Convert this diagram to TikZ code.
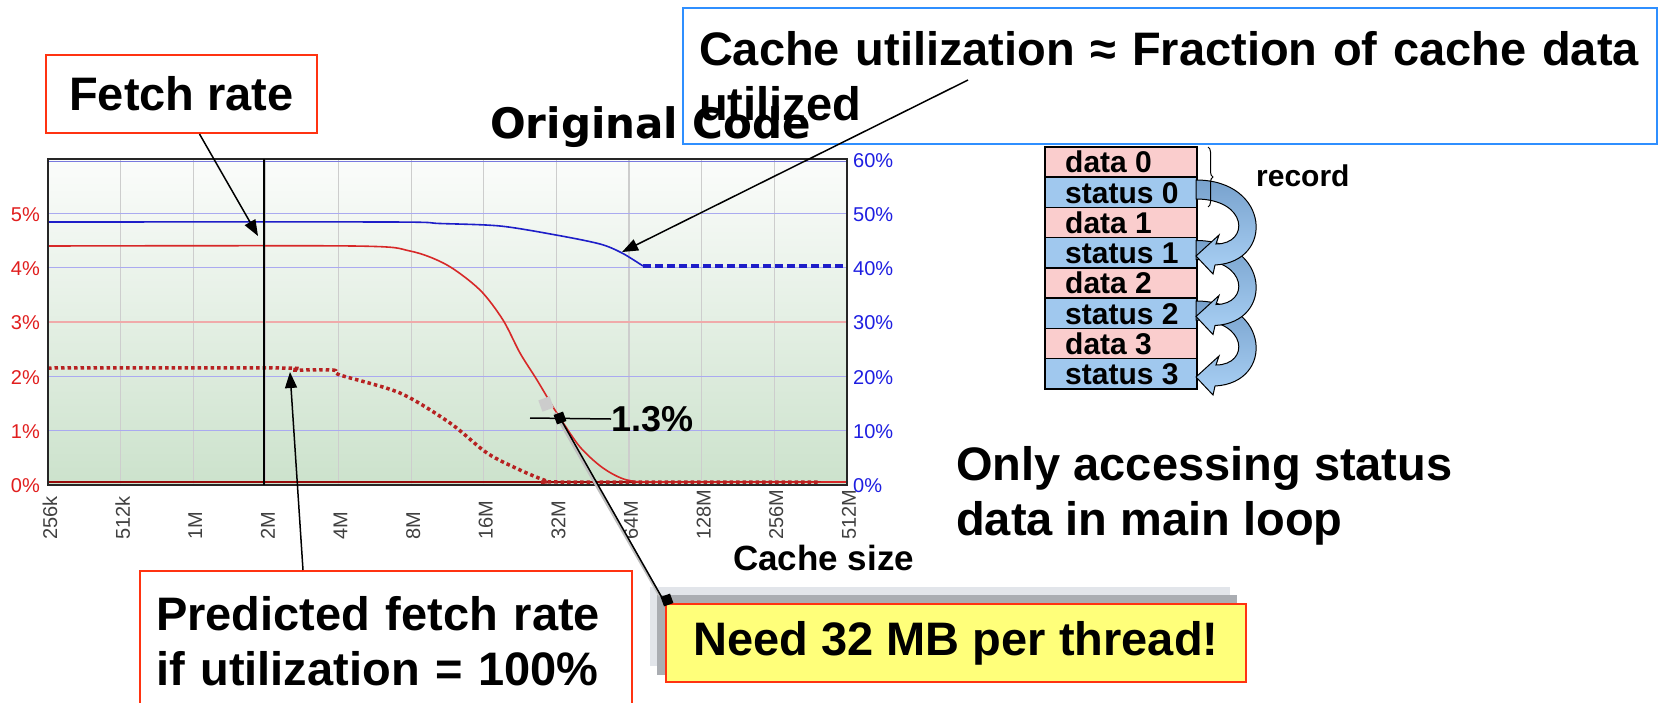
\documentclass[tikz,border=0pt]{standalone}
\usepackage{fontspec}
\setmainfont{Liberation Sans}
\newfontfamily\titlefont{DejaVu Sans}
\usetikzlibrary{arrows.meta,positioning,decorations.pathreplacing}

\definecolor{boxred}{RGB}{255,51,17}
\definecolor{boxblue}{RGB}{47,143,255}
\definecolor{notefill}{RGB}{255,255,122}
\definecolor{shadedark}{RGB}{170,173,178}
\definecolor{shadelight}{RGB}{226,229,234}
\definecolor{plottop}{RGB}{251,252,251}
\definecolor{plotbot}{RGB}{204,226,204}
\definecolor{gridgray}{RGB}{205,205,205}
\definecolor{gridblue}{RGB}{170,170,240}
\definecolor{gridred}{RGB}{240,170,170}
\definecolor{axisred}{RGB}{225,30,30}
\definecolor{axisblue}{RGB}{30,30,225}
\definecolor{curvered}{RGB}{215,40,40}
\definecolor{curveblue}{RGB}{30,30,200}
\definecolor{zerored}{RGB}{150,10,10}
\definecolor{datapink}{RGB}{250,205,205}
\definecolor{statblue}{RGB}{160,200,238}
\definecolor{ribbonlight}{RGB}{170,209,245}
\definecolor{ribbondark}{RGB}{120,162,205}

\newcommand\callfont{\fontsize{47}{55}\selectfont\bfseries}
\newcommand\axfont{\fontsize{20}{22}\selectfont}
\newcommand\recfont{\fontsize{30}{32}\selectfont\bfseries}

\begin{document}
\begin{tikzpicture}[
  x=1pt, y=-1pt,
  callout/.style={
    draw=boxred,
    line width=2pt,
    inner sep=0pt,
    font=\callfont
  },
  plaintext/.style={
    inner sep=0pt,
    font=\callfont
  },
  ylab/.style={inner sep=0pt, font=\axfont},
  xlab/.style={inner sep=0pt, font=\axfont, text=black!75, rotate=90, anchor=west},
  vgrid/.style={draw=gridgray, line width=1.2pt},
  hgrid/.style={draw=gridblue, line width=1.2pt},
  recrow/.style={
    draw,
    line width=1.5pt,
    anchor=north west,
    inner sep=0pt,
    minimum width=152pt,
    minimum height=30.25pt
  },
  rectext/.style={anchor=base west, inner sep=0pt, font=\recfont},
  ribbon/.style={draw, line width=1pt, top color=ribbondark, bottom color=ribbonlight},
  line/.style={-{Triangle[length=16pt,width=12pt]}, line width=1.5pt}
]
\useasboundingbox (0,0) rectangle (1662,702);
\fill[white] (0,0) rectangle (1662,702);

% --- Plot area ---
\shade[top color=plottop, bottom color=plotbot] (48,159) rectangle (847,485);
\foreach \i in {1,...,10}
  \draw[vgrid] ({48+72.63*\i},159) -- ({48+72.63*\i},485);
\foreach \p in {1,2,4,5}
  \draw[hgrid] (48,{485-54.3*\p}) -- (847,{485-54.3*\p});
\draw[draw=gridred, line width=2pt] (48,{485-54.3*3}) -- (847,{485-54.3*3});
\draw[hgrid, draw=curveblue!60] (48,161.5) -- (847,161.5);

% Axis labels
\foreach \p in {0,...,5}
  \node[ylab, text=axisred, anchor=east] at (40,{486-54.3*\p}) {\p\%};
\foreach \p/\t in {0/0,1/10,2/20,3/30,4/40,5/50,6/60}
  \node[ylab, text=axisblue, anchor=west] at (853,{486-54.3*\p}) {\t\%};
\foreach \t [count=\i from 0] in {256k,512k,1M,2M,4M,8M,16M,32M,64M,128M,256M,512M}
  \node[xlab] at ({50+72.63*\i},540) {\t};

% Curves
\draw[zerored, line width=2pt] (48,482) -- (847,482);
\draw[curveblue, line width=1.6pt] plot[smooth, tension=0.5] coordinates
  {(48,222) (390,222) (440,223.5) (500,226) (556,235) (600,244) (622,253) (643,266)};
\draw[curveblue, line width=4pt, dash pattern=on 8pt off 4pt] (643,266) -- (847,266);
\draw[curvered, line width=1.6pt] plot[smooth, tension=0.5] coordinates
  {(48,246) (353,246) (410,251) (447,265) (480,290) (503,320) (520,353) (537,380)
   (553,407) (560,418) (580,447) (603,468) (627,480) (660,482) (847,482)};
\draw[curvered!85!black, line width=3.5pt, dash pattern=on 3.5pt off 3pt] plot[smooth, tension=0.5] coordinates
  {(48,368) (283,368) (293,370) (333,370) (340,375) (400,393) (450,423) (487,453)
   (520,470) (547,481) (560,482) (820,482)};

\draw[black!85, line width=2pt] (48,159) rectangle (847,485);
\draw[line width=2pt] (264,159) -- (264,485);

% Title and axis caption
\node[inner sep=0pt, anchor=base west, font=\titlefont\bfseries\fontsize{42}{46}\selectfont] (title) at (490,138) {Original Code};
\node[inner sep=0pt, anchor=base west, font=\fontsize{35}{38}\selectfont\bfseries] (xcap) at (733,570) {Cache size};

% --- Callouts ---
\node[callout, minimum width=271pt, minimum height=78pt] (fetch) at (181.5,94) {Fetch rate};
\node[callout, anchor=north west, align=left, text width=460pt, minimum height=140pt,
      inner xsep=16pt] (pred) at (139,570) {Predicted fetch rate\\if utilization = 100\%};
\node[callout, draw=boxblue, anchor=north west, align=left, text width=942pt,
      minimum height=136pt, inner xsep=16pt] (util) at (682,7)
      {Cache utilization ≈ Fraction of cache data utilized};
\node[plaintext, anchor=west, align=left] (only) at (956,496)
      {Only accessing status\\data in main loop};

\coordinate (fetchtip) at (258,236);
\coordinate (predtip) at (290,372);
\coordinate (utiltip) at (622,252);
\draw[line] ([xshift=18pt]fetch.south) -- (fetchtip);
\draw[line] (pred.north -| 303,0) -- (predtip);
\draw[line] (968,80) -- (utiltip);

% --- 1.3% marker and note ---
\fill[shadelight] (650,587) rectangle (1230,666);
\fill[shadedark] (657,595) rectangle (1237,675);
\node[callout, fill=notefill, minimum width=580pt, minimum height=78pt] (need) at (956,643)
      {Need 32 MB per thread!};

\node[fill=black!20, minimum size=12pt, inner sep=0pt, rotate=20] (dotshade) at (546,404) {};
\draw[black!25, line width=3pt] (555,413) -- (660,596);
\node[fill=black, minimum size=10pt, inner sep=0pt, rotate=20] (dot13) at (560,418) {};
\draw[line width=1.5pt] (dot13.center) -- (need.north west);
\node[fill=black, minimum size=10pt, inner sep=0pt, rotate=20] (needsq) at (667,600) {};
\coordinate (tickl) at (530,418);
\node[inner sep=0pt, anchor=west, font=\fontsize{36}{40}\selectfont\bfseries] (lab13) at (611,419) {1.3\%};
\draw[line width=1.5pt] (tickl) -- (lab13.west);

% --- Record layout ---
\foreach \k in {0,...,3} {
  \node[recrow, fill=datapink] (d\k) at (1044,{146+60.5*\k}) {};
  \node[recrow, fill=statblue] (s\k) at (1044,{176.25+60.5*\k}) {};
  \node[rectext] at ([shift={(21,-5)}]d\k.south west) {data \k};
  \node[rectext] at ([shift={(21,-5)}]s\k.south west) {status \k};
}
\foreach \k in {2,1,0} {
  \begin{scope}[shift={(0,60.5*\k)}]
    \path[ribbon] (1196,180) .. controls (1270,180) and (1275,262) .. (1215,265)
      -- (1213,274) -- (1196,256) -- (1219,235) -- (1216,244)
      .. controls (1250,244) and (1248,199) .. (1196,199) -- cycle;
  \end{scope}
}
\draw[decorate, decoration={brace, amplitude=5pt}, line width=1pt] (1208,147) -- (1208,207);
\coordinate (rectop) at (1214,176);
\node[inner sep=0pt, anchor=west, font=\recfont, right=42pt of rectop] (reclab) {record};

\end{tikzpicture}
\end{document}
